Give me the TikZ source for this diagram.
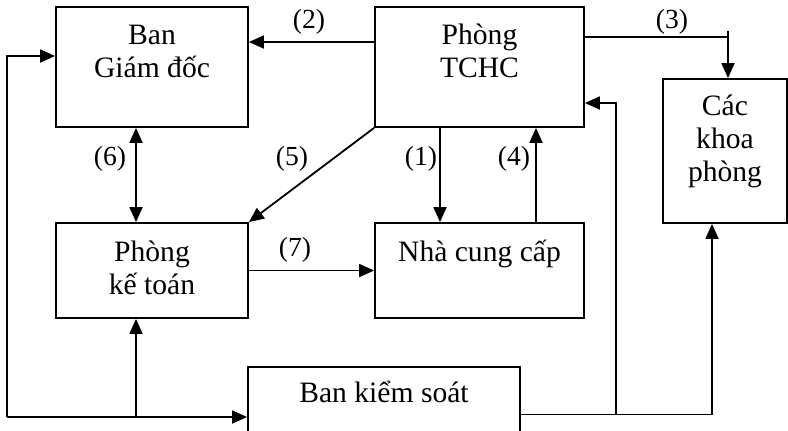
\documentclass[tikz,border=0pt]{standalone}
\usepackage{fontspec}
\setmainfont{Liberation Serif}
\usetikzlibrary{arrows.meta,calc}
\newcommand\boxfont{\fontsize{14.8pt}{16.5pt}\selectfont}
\newcommand\numfont{\fontsize{13.8pt}{16pt}\selectfont}
\tikzset{
  box/.style={draw, line width=0.9pt, inner sep=0pt},
  txt/.style={font=\boxfont, align=center, anchor=base, inner sep=0pt},
  lbl/.style={font=\numfont, inner sep=0pt},
  wire/.style={line width=0.9pt},
  arr/.style={wire, -{Triangle[length=7.5pt,width=6.5pt]}},
  arrboth/.style={wire, {Triangle[length=7.5pt,width=6.5pt]}-{Triangle[length=7.5pt,width=6.5pt]}},
}

\begin{document}
\begin{tikzpicture}[x=0.5pt,y=-0.5pt]
  \clip (0,0) rectangle (788,430);
  % boxes
  \node[box, minimum width=96pt, minimum height=60pt] (BGD) at (152,67) {};
  \node[box, minimum width=104.5pt, minimum height=60pt] (TCHC) at (479.5,67) {};
  \node[box, minimum width=62pt, minimum height=72pt] (Khoa) at (725,151) {};
  \node[box, minimum width=96pt, minimum height=47.5pt] (KeToan) at (152,270.5) {};
  \node[box, minimum width=104.5pt, minimum height=47.5pt] (NCC) at (479.5,270.5) {};
  \node[box, minimum width=136pt, minimum height=47.5pt] (BKS) at (384,414.5) {};
  % texts (base = last line)
  \node[txt] (tBGD) at ([yshift=-35.5pt]BGD.north) {Ban\\Giám đốc};
  \node[txt] (tTCHC) at ([yshift=-35.5pt]TCHC.north) {Phòng\\TCHC};
  \node[txt] (tKhoa) at ([yshift=-51.5pt]Khoa.north) {Các\\khoa\\phòng};
  \node[txt] (tKeToan) at ([yshift=-36pt]KeToan.north) {Phòng\\kế toán};
  \node[txt] (tNCC) at ([yshift=-19.5pt]NCC.north) {Nhà cung cấp};
  \node[txt] (tBKS) at ([yshift=-18pt]BKS.north) {Ban kiểm soát};
  % numbers
  \foreach \t/\x/\y in {2/309/22, 3/672/22, 6/110/159, 5/292/159, 1/421/159, 4/514/159, 7/295/250}
  {
    \node[lbl] (l\t) at (\x,\y) {(\t)};
  }
  % connectors
  \draw[arr] ([yshift=12.5pt]TCHC.west) -- ([yshift=12.5pt]BGD.east);
  \coordinate (t3) at ([yshift=15pt]TCHC.east);
  \coordinate (k3) at ([xshift=1.5pt]Khoa.north |- 0,31);
  \draw[wire] (t3) -- (t3 -| k3);
  \draw[arr] (k3) -- ([xshift=1.5pt]Khoa.north);
  \draw[arrboth] ([xshift=-8pt]BGD.south) -- ([xshift=-8pt]KeToan.north);
  \draw[arr] (TCHC.south west) -- (KeToan.north east);
  \draw[arr] ([xshift=-19.75pt]TCHC.south) -- ([xshift=-19.75pt]NCC.north);
  \draw[arr] ([xshift=28.25pt]NCC.north) -- ([xshift=28.25pt]TCHC.south);
  \draw[arr] (KeToan.east) -- (NCC.west);
  % left loop
  \coordinate (c) at (7,417);
  \coordinate (j) at (136,417);
  \draw[arr] (j) -- ([xshift=-8pt]KeToan.south);
  \draw[arr] (c) -- (BKS.west |- c);
  \draw[arr] (c) |- ([yshift=5.5pt]BGD.west);
  % right side
  \coordinate (m) at (BKS.east -| 616,0);
  \draw[arr] (BKS.east) -| ([xshift=-6.5pt]Khoa.south);
  \draw[arr] (m) |- ([yshift=-18pt]TCHC.east);
\end{tikzpicture}
\end{document}
